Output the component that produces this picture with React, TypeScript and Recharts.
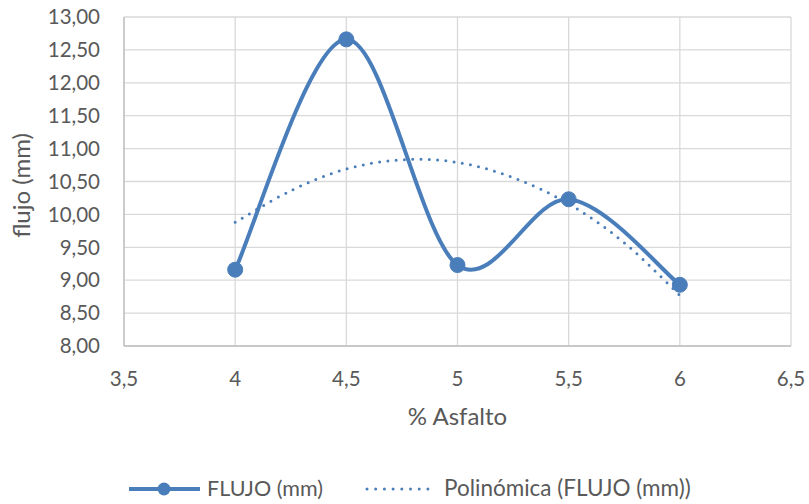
import React from 'react';
import { LineChart, Line, XAxis, YAxis, CartesianGrid } from 'recharts';

// ---- data ----
const xValues = [4, 4.5, 5, 5.5, 6];
const flujoValues = [9.16, 12.66, 9.23, 10.23, 8.93];
const trendX = [4, 4.25, 4.5, 4.75, 5, 5.25, 5.5, 5.75, 6];
const trendValues = [9.88, 10.36, 10.69, 10.83, 10.79, 10.56, 10.16, 9.57, 8.77];
const xTicks = [3.5, 4, 4.5, 5, 5.5, 6, 6.5];
const yTicks = [8, 8.5, 9, 9.5, 10, 10.5, 11, 11.5, 12, 12.5, 13];

const seriesName = 'FLUJO (mm)';
const trendName = 'Polinómica (FLUJO (mm))';
const xTitle = '% Asfalto';
const yTitle = 'flujo (mm)';

const COLOR = '#4A7EBB';
const TEXT = '#595959';
const GRID = '#D9D9D9';
const FONT = 'Lato, "Open Sans", sans-serif';

const tableData = trendX.map((x, i) => {
  const idx = xValues.indexOf(x);
  return { x, trend: trendValues[i], flujo: idx >= 0 ? flujoValues[idx] : null };
});

// Excel-like smoothed line (Catmull-Rom style Bezier)
const smoothCurve: any = (context: any) => {
  let pts: number[][] = [];
  return {
    areaStart() {},
    areaEnd() {},
    lineStart() {
      pts = [];
    },
    lineEnd() {
      const n = pts.length;
      if (!n) return;
      context.moveTo(pts[0][0], pts[0][1]);
      for (let i = 0; i < n - 1; i++) {
        const p0 = pts[i - 1] || pts[i];
        const p1 = pts[i];
        const p2 = pts[i + 1];
        const p3 = pts[i + 2] || p2;
        context.bezierCurveTo(
          p1[0] + (p2[0] - p0[0]) / 6,
          p1[1] + (p2[1] - p0[1]) / 6,
          p2[0] - (p3[0] - p1[0]) / 6,
          p2[1] - (p3[1] - p1[1]) / 6,
          p2[0],
          p2[1]
        );
      }
    },
    point(x: number, y: number) {
      pts.push([+x, +y]);
    },
  };
};

const fmtY = (v: number) => v.toFixed(2).replace('.', ',');
const fmtX = (v: number) => String(v).replace('.', ',');

const YTitle = (props: any) => {
  const vb = props.viewBox || { y: 17, height: 329 };
  const cx = 30;
  const cy = vb.y + vb.height / 2 + 4;
  return (
    <text
      x={cx}
      y={cy}
      transform={`rotate(-90 ${cx} ${cy})`}
      textAnchor="middle"
      fill={TEXT}
      fontSize={24}
      fontFamily={FONT}
    >
      {yTitle}
    </text>
  );
};

const XTitle = (props: any) => {
  const vb = props.viewBox || { x: 124, width: 667, y: 346 };
  const cx = vb.x + vb.width / 2;
  return (
    <text x={cx} y={425} textAnchor="middle" fill={TEXT} fontSize={24} fontFamily={FONT}>
      {xTitle}
    </text>
  );
};

const LegendBox = () => (
  <svg width={809} height={504} style={{ position: 'absolute', left: 0, top: 0, pointerEvents: 'none' }}>
    <line x1={129} y1={489} x2={200} y2={489} stroke={COLOR} strokeWidth={4} />
    <circle cx={164} cy={489} r={6.5} fill={COLOR} />
    <text x={207} y={496} fill={TEXT} fontSize={21.5} fontFamily={FONT}>
      {seriesName}
    </text>
    <line
      x1={367}
      y1={489}
      x2={428}
      y2={489}
      stroke={COLOR}
      strokeWidth={3}
      strokeDasharray="0 8.7"
      strokeLinecap="round"
    />
    <text x={444} y={496} fill={TEXT} fontSize={22.5} fontFamily={FONT}>
      {trendName}
    </text>
  </svg>
);

export default function App() {
  return (
    <div style={{ position: 'absolute', left: 0, top: 0, width: 809, height: 504, background: '#fff' }}>
      <LineChart
        width={809}
        height={504}
        data={tableData}
        margin={{ top: 17, right: 18, left: 0, bottom: 0 }}
      >
        <CartesianGrid stroke={GRID} strokeWidth={1.3} />
        <XAxis
          dataKey="x"
          type="number"
          domain={[3.5, 6.5]}
          ticks={xTicks}
          tickFormatter={fmtX}
          height={158}
          tickLine={false}
          tickSize={0}
          tickMargin={25}
          axisLine={{ stroke: '#BFBFBF', strokeWidth: 1.3 }}
          tick={{ fill: TEXT, fontSize: 20.5, fontFamily: FONT }}
          interval={0}
          allowDataOverflow
          label={<XTitle />}
        />
        <YAxis
          type="number"
          domain={[8, 13]}
          ticks={yTicks}
          tickFormatter={fmtY}
          width={124}
          tickLine={false}
          tickSize={0}
          tickMargin={24}
          axisLine={{ stroke: '#BFBFBF', strokeWidth: 1.3 }}
          tick={{ fill: TEXT, fontSize: 20.5, fontFamily: FONT }}
          interval={0}
          allowDataOverflow
          label={<YTitle />}
        />
        <Line
          dataKey="trend"
          name={trendName}
          type={smoothCurve}
          stroke={COLOR}
          strokeWidth={3}
          strokeDasharray="0 8.3"
          strokeLinecap="round"
          dot={false}
          activeDot={false}
          isAnimationActive={false}
        />
        <Line
          dataKey="flujo"
          name={seriesName}
          type={smoothCurve}
          stroke={COLOR}
          strokeWidth={4}
          connectNulls
          dot={{ r: 7.5, fill: COLOR, stroke: COLOR, strokeWidth: 1 }}
          activeDot={false}
          isAnimationActive={false}
        />
      </LineChart>
      <LegendBox />
    </div>
  );
}
